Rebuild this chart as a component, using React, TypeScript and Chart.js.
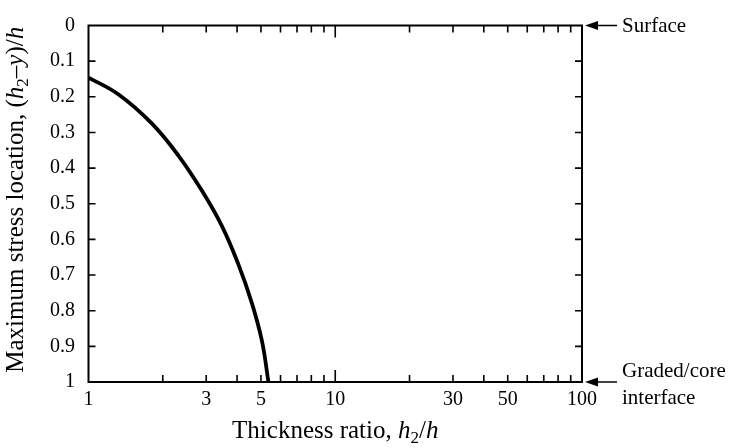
import React, { useEffect, useRef } from 'react';
import { Chart, registerables } from 'chart.js';
Chart.register(...registerables);

// Data
const thicknessRatio = [1, 1.32, 1.8, 2.31, 2.88, 3.47, 4.05, 4.59, 5.05, 5.36];
const stressLocation = [0.146, 0.193, 0.274, 0.364, 0.463, 0.562, 0.67, 0.778, 0.886, 1.0];

const xTickValues = [1, 2, 3, 4, 5, 6, 7, 8, 9, 10, 20, 30, 40, 50, 60, 70, 80, 90, 100];
const xTickLabels = [1, 3, 5, 10, 30, 50, 100];
const xLongTicks = [10];
const yTickValues = [0, 0.1, 0.2, 0.3, 0.4, 0.5, 0.6, 0.7, 0.8, 0.9, 1];

const surfaceLabel = ['Surface'];
const interfaceLabel = ['Graded/core', 'interface'];

const FONT = '"Liberation Serif", "Times New Roman", serif';

type Seg = { t: string; it?: boolean; sub?: boolean };
const xTitle: Seg[] = [
  { t: 'Thickness ratio, ' },
  { t: 'h', it: true },
  { t: '2', sub: true },
  { t: '/' },
  { t: 'h', it: true },
];
const yTitle: Seg[] = [
  { t: 'Maximum stress location, (' },
  { t: 'h', it: true },
  { t: '2', sub: true },
  { t: '\u2013' },
  { t: 'y', it: true },
  { t: ')/' },
  { t: 'h', it: true },
];

function segFont(s: Seg, size: number) {
  const sz = s.sub ? Math.round(size * 0.68) : size;
  return `${s.it ? 'italic ' : ''}${sz}px ${FONT}`;
}

function drawRich(ctx: CanvasRenderingContext2D, segs: Seg[], cx: number, baseY: number, size: number) {
  let total = 0;
  const widths = segs.map((s) => {
    ctx.font = segFont(s, size);
    const w = ctx.measureText(s.t).width;
    total += w;
    return w;
  });
  let x = cx - total / 2;
  ctx.textAlign = 'left';
  ctx.textBaseline = 'alphabetic';
  segs.forEach((s, i) => {
    ctx.font = segFont(s, size);
    ctx.fillText(s.t, x, baseY + (s.sub ? size * 0.18 : 0));
    x += widths[i];
  });
}

const framePlugin = {
  id: 'frameAndNotes',
  afterDraw(chart: any) {
    const { ctx, chartArea } = chart;
    const { left, right, top, bottom } = chartArea;
    const xs = chart.scales.x;
    const ys = chart.scales.y;
    ctx.save();
    ctx.strokeStyle = '#000';
    ctx.fillStyle = '#000';
    // frame
    ctx.lineWidth = 2;
    ctx.strokeRect(left, top, right - left, bottom - top);
    // x ticks (inward, bottom and top)
    ctx.lineWidth = 1.6;
    ctx.beginPath();
    xTickValues.forEach((v) => {
      if (v === xTickValues[0] || v === xTickValues[xTickValues.length - 1]) return;
      const px = xs.getPixelForValue(v);
      const len = xLongTicks.includes(v) ? 12 : 7;
      ctx.moveTo(px, bottom);
      ctx.lineTo(px, bottom - len);
      ctx.moveTo(px, top);
      ctx.lineTo(px, top + len);
    });
    yTickValues.forEach((v) => {
      if (v === yTickValues[0] || v === yTickValues[yTickValues.length - 1]) return;
      const py = ys.getPixelForValue(v);
      ctx.moveTo(left, py);
      ctx.lineTo(left + 7, py);
      ctx.moveTo(right, py);
      ctx.lineTo(right - 7, py);
    });
    ctx.stroke();

    // arrows
    const arrow = (yv: number) => {
      const py = ys.getPixelForValue(yv);
      const tip = right + 3;
      ctx.lineWidth = 1.5;
      ctx.beginPath();
      ctx.moveTo(tip + 10, py);
      ctx.lineTo(right + 35, py);
      ctx.stroke();
      ctx.beginPath();
      ctx.moveTo(tip, py);
      ctx.lineTo(tip + 13, py - 4.5);
      ctx.lineTo(tip + 13, py + 4.5);
      ctx.closePath();
      ctx.fill();
      return py;
    };
    const pySurf = arrow(yTickValues[0]);
    const pyInt = arrow(yTickValues[yTickValues.length - 1]);
    ctx.font = `21px ${FONT}`;
    ctx.textAlign = 'left';
    ctx.textBaseline = 'middle';
    ctx.fillText(surfaceLabel[0], right + 40, pySurf + 1);
    ctx.fillText(interfaceLabel[0], right + 40, pyInt - 11);
    ctx.fillText(interfaceLabel[1], right + 40, pyInt + 16);

    // axis titles
    drawRich(ctx, xTitle, (left + right) / 2, 438, 25);
    ctx.translate(23, (top + bottom) / 2 - 4);
    ctx.rotate(-Math.PI / 2);
    drawRich(ctx, yTitle, 0, 0, 25);
    ctx.restore();
  },
};

export default function App() {
  const ref = useRef<HTMLCanvasElement | null>(null);
  useEffect(() => {
    document.body.style.margin = '0';
    const canvas = ref.current;
    if (!canvas) return;
    const chart = new Chart(canvas, {
      type: 'line',
      data: {
        datasets: [
          {
            data: thicknessRatio.map((x, i) => ({ x, y: stressLocation[i] })),
            borderColor: '#000',
            borderWidth: 3.8,
            pointRadius: 0,
            tension: 0.4,
            fill: false,
          },
        ],
      },
      options: {
        animation: false,
        responsive: false,
        devicePixelRatio: 1,
        layout: { padding: { top: 12, right: 147, left: 0, bottom: 0 } },
        plugins: { legend: { display: false }, tooltip: { enabled: false } },
        scales: {
          x: {
            type: 'logarithmic',
            min: 1,
            max: 100,
            grid: { display: false, drawTicks: false },
            border: { display: false },
            afterBuildTicks: (s: any) => {
              s.ticks = xTickValues.map((v) => ({ value: v }));
            },
            afterFit: (s: any) => {
              s.height = 66;
            },
            ticks: {
              autoSkip: false,
              maxRotation: 0,
              padding: 6,
              color: '#000',
              font: { family: FONT, size: 20 },
              callback: (v: any) => (xTickLabels.includes(Number(v)) ? String(Number(v)) : ''),
            },
          },
          y: {
            type: 'linear',
            min: 0,
            max: 1,
            reverse: true,
            grid: { display: false, drawTicks: false },
            border: { display: false },
            afterBuildTicks: (s: any) => {
              s.ticks = yTickValues.map((v) => ({ value: v }));
            },
            afterFit: (s: any) => {
              s.width = 88.5;
            },
            ticks: {
              autoSkip: false,
              padding: 13.5,
              color: '#000',
              font: { family: FONT, size: 20 },
              callback: (v: any) => String(Number(Number(v).toFixed(1))),
            },
          },
        },
      },
      plugins: [framePlugin],
    } as any);
    return () => chart.destroy();
  }, []);
  return (
    <div style={{ position: 'absolute', left: 0, top: 0, width: 729, height: 448, background: '#fff' }}>
      <canvas ref={ref} width={729} height={448} style={{ display: 'block' }} />
    </div>
  );
}
